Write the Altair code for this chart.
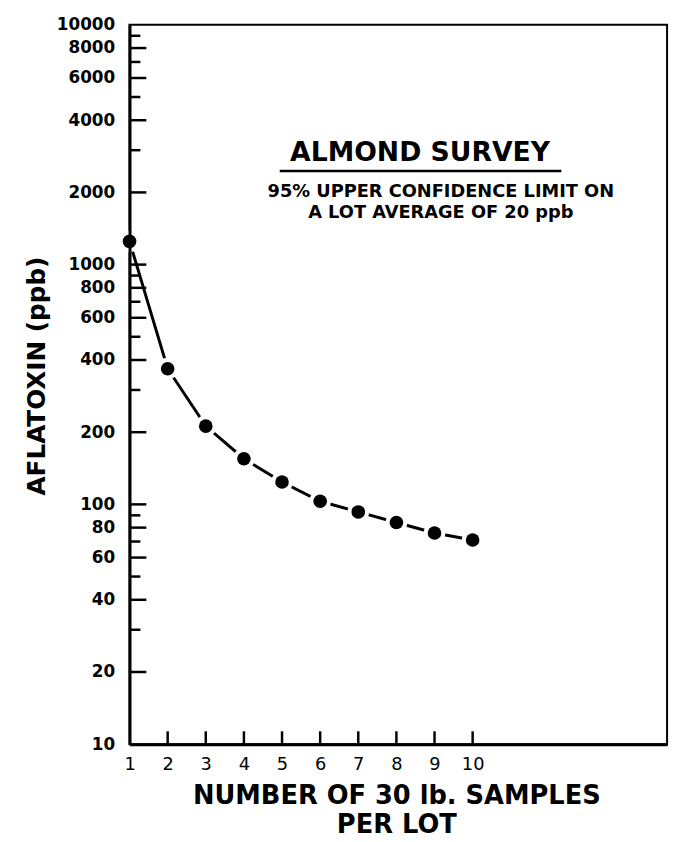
import altair as alt
import pandas as pd

# ---- data ----
samples = [1, 2, 3, 4, 5, 6, 7, 8, 9, 10]
aflatoxin = [1250, 368, 212, 155, 124, 103, 93, 84, 76, 71]

y_label_values = [10, 20, 40, 60, 80, 100, 200, 400, 600, 800,
                  1000, 2000, 4000, 6000, 8000, 10000]
y_major_ticks = [20, 40, 60, 80, 100, 200, 400, 600, 800, 1000, 2000, 4000, 6000, 8000]
y_minor_ticks = [30, 50, 70, 90, 300, 500, 700, 900, 3000, 5000, 7000, 9000]
x_label_values = [1, 2, 3, 4, 5, 6, 7, 8, 9, 10]
x_tick_marks = [2, 3, 4, 5, 6, 7, 8, 9, 10]

title_text = "ALMOND SURVEY"
subtitle_lines = ["95% UPPER CONFIDENCE LIMIT ON", "A LOT AVERAGE OF 20 ppb"]
x_title = ["NUMBER OF 30 lb. SAMPLES", "PER LOT"]
y_title = "AFLATOXIN (ppb)"

FONT = "DejaVu Sans"
W, H = 544, 728

xs = alt.Scale(domain=[1, 15.1], nice=False, zero=False)
ys = alt.Scale(type="log", domain=[10, 10000], nice=False)

df = pd.DataFrame({"n": samples, "ppb": aflatoxin})

x_axis = alt.Axis(
    values=x_label_values, format="d", ticks=False, grid=False,
    labelPadding=12, labelFont=FONT, labelFontSize=18, labelFontWeight="normal",
    labelColor="black", labelFlush=False, labelOverlap=False,
    domainColor="black", domainWidth=3,
    title=x_title, titleFont=FONT, titleFontSize=26, titleFontWeight="bold",
    titleColor="black", titleX=270, titleY=60, titleAlign="center",
    titleBaseline="alphabetic", titleLineHeight=29, zindex=1,
)
y_axis = alt.Axis(
    values=y_label_values, format="d", ticks=False, grid=False,
    labelPadding=15, labelFont=FONT, labelFontSize=17, labelFontWeight="bold",
    labelColor="black", labelFlush=False, labelOverlap=False,
    domainColor="black", domainWidth=3,
    title=y_title, titleFont=FONT, titleFontSize=25, titleFontWeight="bold",
    titleColor="black", titleAngle=270, titleX=-86, titleY=355,
    titleAlign="center", titleBaseline="alphabetic", zindex=1,
)

line = alt.Chart(df).mark_line(
    color="black", strokeWidth=3, interpolate="linear"
).encode(
    x=alt.X("n:Q", scale=xs, axis=x_axis),
    y=alt.Y("ppb:Q", scale=ys, axis=y_axis),
)

halo = alt.Chart(df).mark_circle(color="white", size=480, opacity=1).encode(
    x=alt.X("n:Q", scale=xs), y=alt.Y("ppb:Q", scale=ys)
)
dots = alt.Chart(df).mark_circle(color="black", size=190, opacity=1).encode(
    x=alt.X("n:Q", scale=xs), y=alt.Y("ppb:Q", scale=ys)
)

major = alt.Chart(pd.DataFrame({"ppb": y_major_ticks})).mark_rule(
    color="black", strokeWidth=2.5
).encode(y=alt.Y("ppb:Q", scale=ys), x=alt.value(0), x2=alt.value(17))

minor = alt.Chart(pd.DataFrame({"ppb": y_minor_ticks})).mark_rule(
    color="black", strokeWidth=2.5
).encode(y=alt.Y("ppb:Q", scale=ys), x=alt.value(0), x2=alt.value(11))

xticks = alt.Chart(pd.DataFrame({"n": x_tick_marks})).mark_rule(
    color="black", strokeWidth=2.5
).encode(x=alt.X("n:Q", scale=xs), y=alt.value(H), y2=alt.value(H - 13))

ann_title = alt.Chart(pd.DataFrame({"t": [title_text]})).mark_text(
    font=FONT, fontSize=27, fontWeight="bold", color="black",
    align="center", baseline="alphabetic"
).encode(text="t:N", x=alt.value(294), y=alt.value(138))

underline = alt.Chart(pd.DataFrame({"t": [title_text]})).mark_rule(
    color="black", strokeWidth=2.5
).encode(x=alt.value(152), x2=alt.value(437), y=alt.value(148))

ann_sub = alt.Chart(pd.DataFrame({"t": [0]})).mark_text(
    text=subtitle_lines, font=FONT, fontSize=18, fontWeight="bold",
    color="black", align="center", baseline="alphabetic", lineHeight=22
).encode(x=alt.value(315), y=alt.value(174))

chart = alt.layer(
    line, halo, dots, major, minor, xticks, ann_title, underline, ann_sub
).properties(
    width=W, height=H, autosize="none",
    padding={"left": 123, "top": 12, "right": 6, "bottom": 94},
    background="white",
).configure_view(stroke="black", strokeWidth=2)

chart.save("out.html", embed_options={"renderer": "svg", "actions": False})
